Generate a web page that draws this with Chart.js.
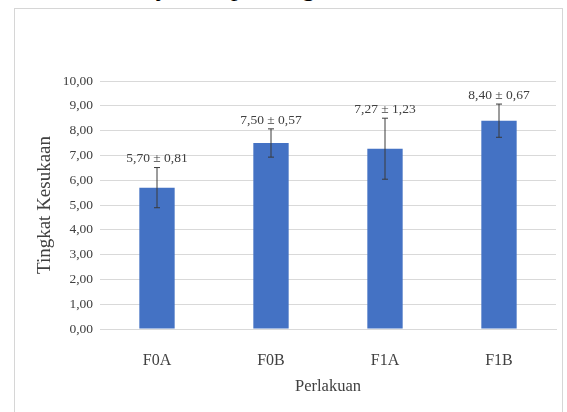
<!DOCTYPE html>
<html>
<head>
<meta charset="utf-8">
<script src="https://cdn.jsdelivr.net/npm/chart.js@4/dist/chart.umd.min.js"></script>
<style>
  html, body { margin: 0; padding: 0; background: #fff; }
  body { width: 567px; height: 412px; position: relative; overflow: hidden; }
  #frame { position: absolute; left: 14px; top: 8px; width: 549px; height: 420px; border: 1px solid #d6d6d6; box-sizing: border-box; }
  .cut { position: absolute; top: -25px; font: 26px/26px "Liberation Serif", serif; color: #000; }
  #wrap { position: absolute; left: 0; top: 0; width: 567px; height: 412px; }
</style>
</head>
<body>
<span class="cut" style="left:157px">j</span>
<span class="cut" style="left:231px">p</span>
<span class="cut" style="left:302px">g</span>
<div id="frame"></div>
<div id="wrap"><canvas id="chart" width="567" height="412"></canvas></div>
<script>
document.addEventListener('DOMContentLoaded', function() {
    initChart();
});

// data
const categories = ['F0A', 'F0B', 'F1A', 'F1B'];
const means = [5.70, 7.50, 7.27, 8.40];
const sds = [0.81, 0.57, 1.23, 0.67];
const yTicks = [0, 1, 2, 3, 4, 5, 6, 7, 8, 9, 10];

function fmt(v) {
    return v.toFixed(2).replace('.', ',');
}

// error bars + "mean ± sd" labels
const errorBars = {
    id: 'errorBars',
    afterDatasetsDraw(chart) {
        const ctx = chart.ctx;
        const y = chart.scales.y;
        const meta = chart.getDatasetMeta(0);
        ctx.save();
        meta.data.forEach((bar, i) => {
            const top = y.getPixelForValue(means[i] + sds[i]);
            const bottom = y.getPixelForValue(means[i] - sds[i]);
            ctx.strokeStyle = '#3a3a3a';
            ctx.lineWidth = 1;
            ctx.beginPath();
            ctx.moveTo(bar.x, top);
            ctx.lineTo(bar.x, bottom);
            ctx.moveTo(bar.x - 3, top);
            ctx.lineTo(bar.x + 3, top);
            ctx.moveTo(bar.x - 3, bottom);
            ctx.lineTo(bar.x + 3, bottom);
            ctx.stroke();

            ctx.fillStyle = '#404040';
            ctx.font = '13.5px "Liberation Serif"';
            ctx.textAlign = 'center';
            ctx.textBaseline = 'bottom';
            ctx.fillText(fmt(means[i]) + ' ± ' + fmt(sds[i]), bar.x, top - 2);
        });
        ctx.restore();
    }
};

function initChart() {
    const ctx = document.getElementById('chart').getContext('2d');
    new Chart(ctx, {
        type: 'bar',
        data: {
            labels: categories,
            datasets: [{
                data: means,
                backgroundColor: '#4472c4',
                borderWidth: 0,
                categoryPercentage: 1,
                barPercentage: 0.31
            }]
        },
        options: {
            responsive: false,
            animation: false,
            devicePixelRatio: 1,
            layout: { padding: { left: 30, right: 11, top: 81, bottom: 0 } },
            scales: {
                y: {
                    min: 0,
                    max: 10,
                    afterBuildTicks: function(scale) {
                        scale.ticks = yTicks.map(v => ({ value: v }));
                    },
                    afterFit: function(scale) { scale.width = 70; },
                    border: { display: false },
                    grid: { color: '#d9d9d9', drawTicks: false },
                    ticks: {
                        padding: 7,
                        color: '#404040',
                        font: { family: 'Liberation Serif', size: 13.5 },
                        callback: v => fmt(v)
                    },
                    title: {
                        display: true,
                        text: 'Tingkat Kesukaan',
                        color: '#404040',
                        font: { family: 'Liberation Serif', size: 19 },
                        padding: { top: 4, bottom: 0 }
                    }
                },
                x: {
                    afterFit: function(scale) { scale.height = 83; },
                    border: { color: '#d9d9d9' },
                    grid: { display: false },
                    ticks: {
                        padding: 14,
                        color: '#404040',
                        font: { family: 'Liberation Serif', size: 16 }
                    },
                    title: {
                        display: true,
                        text: 'Perlakuan',
                        color: '#404040',
                        font: { family: 'Liberation Serif', size: 16.5 },
                        padding: { top: 0, bottom: 15 }
                    }
                }
            },
            plugins: {
                legend: { display: false },
                tooltip: { enabled: false }
            }
        },
        plugins: [errorBars]
    });
}
</script>
</body>
</html>
